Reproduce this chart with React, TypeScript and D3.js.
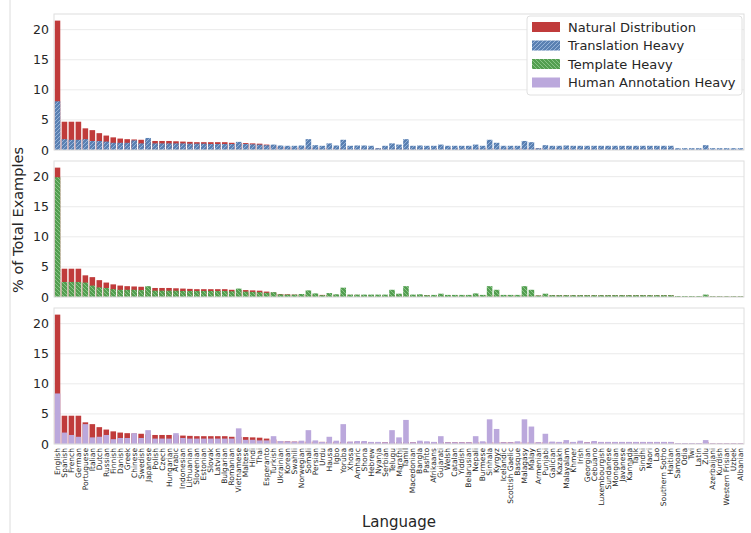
import React from "react";
import * as d3 from "d3";

const languages = [
  "English","Spanish","French","German","Portuguese","Italian","Dutch","Russian","Finnish","Danish",
  "Greek","Chinese","Swedish","Japanese","Polish","Czech","Hungarian","Arabic","Indonesian","Lithuanian",
  "Slovenian","Estonian","Slovak","Latvian","Bulgarian","Romanian","Vietnamese","Maltese","Hindi","Thai",
  "Esperanto","Turkish","Ukrainian","Korean","Swahili","Norwegian","Somali","Persian","Urdu","Hausa",
  "Igbo","Yoruba","Xhosa","Amharic","Shona","Hebrew","Nyanja","Serbian","Telugu","Marathi",
  "Tamil","Macedonian","Bangla","Pashto","Afrikaans","Gujarati","Welsh","Catalan","Yiddish","Belarusian",
  "Nepali","Burmese","Sinhala","Kyrgyz","Icelandic","Scottish Gaelic","Basque","Malagasy","Malay","Armenian",
  "Punjabi","Galician","Kazakh","Malayalam","Khmer","Irish","Georgian","Cebuano","Luxembourgish","Sundanese",
  "Mongolian","Javanese","Kannada","Tajik","Sindhi","Maori","Lao","Southern Sotho","Haitian","Samoan",
  "Odia","Twi","Latin","Zulu","Azerbaijani","Kurdish","Western Frisian","Uzbek","Albanian",
];

const natural = [
  21.5, 4.7, 4.7, 4.7, 3.6, 3.3, 2.8, 2.4, 2.1, 1.9,
  1.8, 1.75, 1.7, 1.6, 1.5, 1.5, 1.5, 1.45, 1.4, 1.35,
  1.3, 1.3, 1.3, 1.3, 1.3, 1.2, 1.2, 1.15, 1.1, 1.05,
  0.9, 0.75, 0.5, 0.45, 0.4, 0.4, 0.4, 0.4, 0.35, 0.35,
  0.35, 0.35, 0.35, 0.35, 0.3, 0.3, 0.25, 0.3, 0.3, 0.3,
  0.3, 0.3, 0.3, 0.3, 0.3, 0.3, 0.3, 0.3, 0.3, 0.3,
  0.3, 0.3, 0.3, 0.3, 0.3, 0.3, 0.3, 0.3, 0.3, 0.25,
  0.3, 0.3, 0.3, 0.3, 0.3, 0.3, 0.3, 0.3, 0.3, 0.3,
  0.3, 0.3, 0.3, 0.3, 0.3, 0.3, 0.3, 0.3, 0.3, 0.12,
  0.12, 0.12, 0.12, 0.3, 0.1, 0.1, 0.1, 0.1, 0.1,
];

const translationHeavy = [
  8.1, 1.8, 1.7, 1.7, 1.8, 1.5, 1.5, 1.4, 1.2, 1.2,
  1.2, 1.6, 1.1, 2.0, 1.1, 1.1, 1.1, 1.1, 1.1, 1.05,
  1.05, 1.05, 1.0, 1.0, 1.0, 1.0, 1.35, 1.0, 0.95, 0.9,
  0.8, 0.9, 0.75, 0.7, 0.7, 0.75, 1.8, 0.8, 0.7, 1.1,
  0.75, 1.7, 0.7, 0.75, 0.75, 0.7, 0.3, 0.7, 1.1, 0.9,
  1.8, 0.7, 0.75, 0.7, 0.7, 0.9, 0.7, 0.7, 0.7, 0.7,
  0.9, 0.7, 1.7, 1.2, 0.7, 0.7, 0.7, 1.5, 1.3, 0.3,
  0.8, 0.7, 0.7, 0.75, 0.7, 0.7, 0.7, 0.7, 0.7, 0.7,
  0.7, 0.7, 0.7, 0.7, 0.7, 0.7, 0.7, 0.7, 0.7, 0.3,
  0.3, 0.3, 0.3, 0.8, 0.3, 0.3, 0.3, 0.3, 0.3,
];

const templateHeavy = [
  19.9, 2.5, 2.5, 2.5, 2.4, 1.9, 1.6, 1.5, 1.3, 1.2,
  1.2, 1.2, 1.15, 1.8, 1.05, 1.05, 1.05, 1.05, 1.0, 1.0,
  1.0, 1.0, 1.0, 1.0, 1.0, 0.95, 1.4, 0.9, 0.85, 0.8,
  0.7, 0.8, 0.45, 0.4, 0.4, 0.5, 1.1, 0.6, 0.3, 0.65,
  0.45, 1.55, 0.4, 0.4, 0.4, 0.4, 0.4, 0.4, 1.2, 0.55,
  1.8, 0.4, 0.45, 0.3, 0.35, 0.55, 0.35, 0.35, 0.35, 0.35,
  0.6, 0.35, 1.8, 1.2, 0.35, 0.35, 0.35, 1.8, 1.2, 0.25,
  0.55, 0.3, 0.3, 0.3, 0.3, 0.3, 0.3, 0.3, 0.3, 0.3,
  0.3, 0.3, 0.3, 0.3, 0.3, 0.3, 0.3, 0.3, 0.3, 0.15,
  0.15, 0.15, 0.15, 0.4, 0.12, 0.12, 0.12, 0.12, 0.12,
];

const humanAnnotationHeavy = [
  8.4, 1.9, 1.5, 1.2, 3.3, 1.1, 1.2, 1.5, 0.8, 1.0,
  1.0, 1.8, 1.0, 2.3, 0.9, 0.9, 0.9, 1.8, 1.0, 0.9,
  0.9, 0.9, 0.9, 0.9, 0.9, 0.9, 2.6, 0.7, 0.7, 0.6,
  0.6, 1.3, 0.5, 0.45, 0.4, 0.55, 2.3, 0.6, 0.35, 1.2,
  0.55, 3.3, 0.4, 0.5, 0.5, 0.35, 0.35, 0.3, 2.3, 1.1,
  4.0, 0.3, 0.55, 0.45, 0.35, 1.3, 0.3, 0.3, 0.3, 0.3,
  1.3, 0.45, 4.1, 2.5, 0.3, 0.3, 0.45, 4.1, 2.9, 0.3,
  1.7, 0.4, 0.35, 0.65, 0.35, 0.55, 0.3, 0.5, 0.35, 0.35,
  0.35, 0.35, 0.35, 0.35, 0.35, 0.35, 0.35, 0.35, 0.35, 0.15,
  0.15, 0.15, 0.15, 0.65, 0.12, 0.12, 0.12, 0.12, 0.12,
];

const yTicks = [0, 5, 10, 15, 20];
const legendLabels = ["Natural Distribution", "Translation Heavy", "Template Heavy", "Human Annotation Heavy"];

const W = 751;
const H = 533;
const RED = "#c03b3b";
const PURPLE = "#bba8dc";
const FONT = "DejaVu Sans, sans-serif";

export default function App() {
  const left = 54;
  const right = 744;
  const panels = [
    { top: 14, bottom: 150, values: translationHeavy, fill: "url(#hatchBlue)" },
    { top: 161, bottom: 297, values: templateHeavy, fill: "url(#hatchGreen)" },
    { top: 308, bottom: 444, values: humanAnnotationHeavy, fill: PURPLE },
  ];
  const x = d3.scaleBand<string>().domain(languages).range([left, right]).paddingInner(0.2).paddingOuter(0.1);
  const legendFills = [RED, "url(#hatchBlue)", "url(#hatchGreen)", PURPLE];

  return (
    <svg width={W} height={H} style={{ position: "absolute", left: 0, top: 0, background: "#fff" }} fontFamily={FONT}>
      <defs>
        <pattern id="hatchBlue" patternUnits="userSpaceOnUse" width="4" height="4">
          <rect width="4" height="4" fill="#5a80b2" />
          <path d="M-1,1 l2,-2 M0,4 l4,-4 M3,5 l2,-2" stroke="#9cb8dc" strokeWidth="0.9" />
        </pattern>
        <pattern id="hatchGreen" patternUnits="userSpaceOnUse" width="4" height="4">
          <rect width="4" height="4" fill="#539e50" />
          <path d="M-1,3 l2,2 M0,0 l4,4 M3,-1 l2,2" stroke="#8fc88c" strokeWidth="0.9" />
        </pattern>
      </defs>
      <line x1={10} x2={10} y1={0} y2={H} stroke="#dcdcdc" />
      {panels.map((p, pi) => {
        const y = d3.scaleLinear().domain([0, 22.6]).range([p.bottom, p.top]);
        return (
          <g key={pi}>
            {yTicks.map((t) => (
              <g key={t}>
                <line x1={left} x2={right} y1={y(t)} y2={y(t)} stroke="#ebebeb" strokeWidth={1} />
                <text x={left - 5} y={y(t)} textAnchor="end" dominantBaseline="central" fontSize={12.5} fill="#262626">
                  {t}
                </text>
              </g>
            ))}
            {languages.map((l, i) => (
              <rect key={"n" + i} x={x(l)} width={x.bandwidth()} y={y(natural[i])} height={p.bottom - y(natural[i])} fill={RED} />
            ))}
            {languages.map((l, i) => (
              <rect key={"v" + i} x={x(l)} width={x.bandwidth()} y={y(p.values[i])} height={p.bottom - y(p.values[i])} fill={p.fill} />
            ))}
            <rect x={left} y={p.top} width={right - left} height={p.bottom - p.top} fill="none" stroke="#dedede" />
          </g>
        );
      })}
      {languages.map((l) => (
        <text
          key={l}
          transform={`translate(${(x(l) as number) + x.bandwidth() / 2},${448}) rotate(-90)`}
          textAnchor="end"
          dominantBaseline="central"
          fontSize={7.5}
          fill="#262626"
        >
          {l}
        </text>
      ))}
      <g>
        <rect x={527} y={16} width={215} height={79} rx={3} fill="#fff" fillOpacity={0.85} stroke="#e0e0e0" />
        {legendLabels.map((lab, i) => (
          <g key={lab}>
            <rect x={532} y={22 + i * 18.5} width={28} height={10} fill={legendFills[i]} />
            <text x={568} y={27 + i * 18.5} dominantBaseline="central" fontSize={13} fill="#262626">
              {lab}
            </text>
          </g>
        ))}
      </g>
      <text transform={`translate(18,220) rotate(-90)`} textAnchor="middle" dominantBaseline="central" fontSize={14.5} fill="#262626">
        % of Total Examples
      </text>
      <text x={399} y={522} textAnchor="middle" dominantBaseline="central" fontSize={15} fill="#262626">
        Language
      </text>
    </svg>
  );
}
